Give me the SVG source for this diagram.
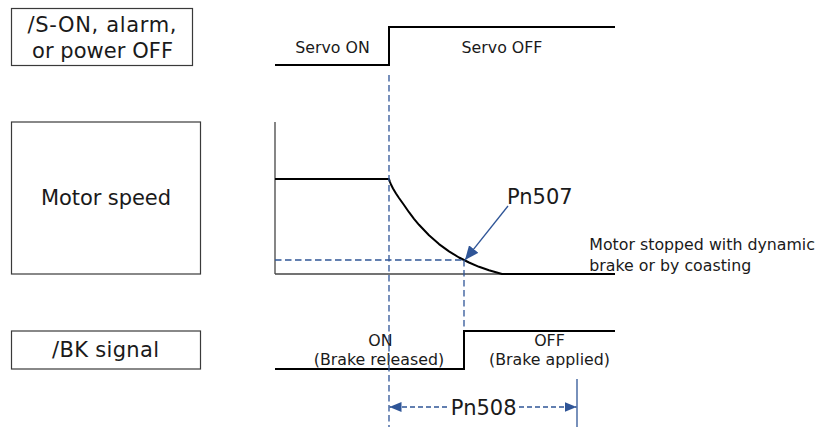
<svg xmlns="http://www.w3.org/2000/svg" width="816" height="427" viewBox="0 0 816 427">
<defs>
<style>
.box{fill:#fff;stroke:#3a3a3a;stroke-width:1.2}
.lbl{font-family:"DejaVu Sans","Verdana",sans-serif;font-size:21px;fill:#1a1a1a}
.mid{text-anchor:middle}
.sm{font-family:"DejaVu Sans","Verdana",sans-serif;font-size:15.8px;fill:#1a1a1a}
.sig{fill:none;stroke:#000;stroke-width:2}
.axis{fill:none;stroke:#444;stroke-width:1.3}
.dash{fill:none;stroke:#2F5597;stroke-width:1.3;stroke-dasharray:6.5 3.5}
.dim{fill:none;stroke:#2F5597;stroke-width:1.3;stroke-dasharray:5 3}
.blue{fill:none;stroke:#2F5597;stroke-width:1.3}
</style>
<marker id="ah" markerUnits="userSpaceOnUse" markerWidth="12" markerHeight="10" refX="12" refY="5" orient="auto">
<path d="M0,0 L12,5 L0,10 z" fill="#2F5597"/>
</marker>
<marker id="ahBig" markerUnits="userSpaceOnUse" markerWidth="14" markerHeight="12" refX="14" refY="6" orient="auto">
<path d="M0,0 L14,6 L0,12 z" fill="#2F5597"/>
</marker>
</defs>
<rect width="816" height="427" fill="#fff"/>

<g id="node-trigger">
<rect class="box" x="11.5" y="8.5" width="181" height="57"/>
<text class="lbl mid" x="102" y="31.5" textLength="149">/S-ON, alarm,</text>
<text class="lbl mid" x="102.5" y="57.5" textLength="141">or power OFF</text>
</g>
<g id="node-motor-speed">
<rect class="box" x="11.5" y="122" width="189" height="152"/>
<text class="lbl mid" x="106" y="205" textLength="130">Motor speed</text>
</g>
<g id="node-bk-signal">
<rect class="box" x="11.5" y="331" width="189" height="38"/>
<text class="lbl mid" x="105.5" y="357" textLength="107">/BK signal</text>
</g>

<g id="waveforms">
<polyline class="sig" points="275,65 389,65 389,27 615,27"/>
<text class="sm mid" x="332.5" y="53.3">Servo ON</text>
<text class="sm mid" x="502" y="53.3">Servo OFF</text>

<line class="axis" x1="275" y1="122" x2="275" y2="274"/>
<line class="axis" x1="275" y1="274" x2="502" y2="274"/>
<path class="sig" stroke-linejoin="round" d="M275,179 L389,179 L390,182 L391,184.5 L393,188.5 L396,193.5 L399,198 L404,205 L409,212.2 L414,218.8 L419,224.8 L429,235.3 L439,244.1 L449,251.4 L459,257.5 L469,262.5 L479,266.8 L489,270.3 L502,274 L615,274"/>
<text class="sm" x="589.3" y="250">Motor stopped with dynamic</text>
<text class="sm" x="589.3" y="270.7">brake or by coasting</text>

<polyline class="sig" points="275,369 464,369 464,331 615,331"/>
<text class="sm mid" x="380.5" y="345.7">ON</text>
<text class="sm mid" x="379" y="365">(Brake released)</text>
<text class="sm mid" x="549.5" y="345.7">OFF</text>
<text class="sm mid" x="549.5" y="365">(Brake applied)</text>
</g>

<g id="connectors">
<line class="dash" x1="389" y1="75" x2="389" y2="427"/>
<line class="dash" x1="275" y1="260" x2="464" y2="260"/>
<line class="dash" x1="464" y1="260" x2="464" y2="330"/>
<line class="blue" x1="508" y1="206" x2="465" y2="260" marker-end="url(#ahBig)"/>
<text class="lbl" x="507" y="204.3">Pn507</text>
<line class="blue" x1="577" y1="379" x2="577" y2="427"/>
<line class="dim" x1="447" y1="407" x2="389.5" y2="407" marker-end="url(#ah)"/>
<line class="dim" x1="519" y1="407" x2="576.5" y2="407" marker-end="url(#ah)"/>
<text class="lbl mid" x="483.7" y="414.5">Pn508</text>
</g>
</svg>
